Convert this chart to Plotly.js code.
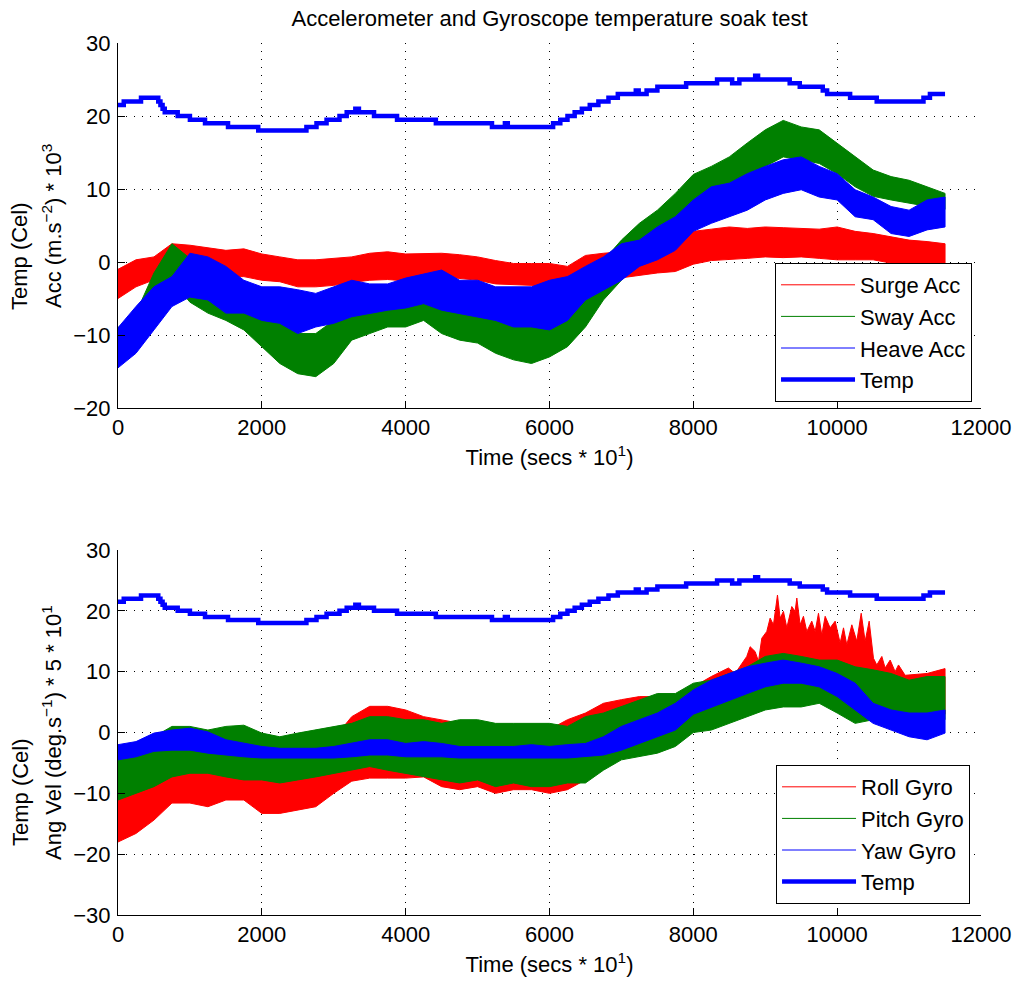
<!DOCTYPE html>
<html>
<head>
<meta charset="utf-8">
<script src="https://cdn.plot.ly/plotly-3.0.1.min.js"></script>
<style>html,body{margin:0;padding:0;background:#fff;}#chart{width:1016px;height:983px;}</style>
</head>
<body>
<div id="chart"></div>
<script>
// Sample times (secs * 10) at which the envelopes of the noisy signals were read
var t = [0,250,500,750,1000,1250,1500,1750,2000,2250,2500,2750,3000,3250,3500,3750,4000,4250,4500,4750,5000,5250,5500,5750,6000,6250,6500,6750,7000,7250,7500,7750,8000,8250,8500,8750,9000,9250,9500,9750,10000,10250,10500,10750,11000,11250,11500];

// Accelerometer (upper / lower envelope of the noisy traces)
var surgeHi = [-1,0.3,0.7,2.5,2.3,2,1.6,1.8,1.1,0.7,0.3,0.3,0.5,0.7,1.2,1.4,1.1,1.2,1.2,1.0,0.7,0.2,-0.2,-0.2,-0.2,-0.6,0.9,1.2,1.4,1.0,0.7,3.5,4.2,4.5,4.8,4.6,4.8,4.7,4.6,4.5,4.8,4.2,3.9,3.4,3.0,2.8,2.5];
var surgeLo = [-5,-3.4,-2.5,-1.5,-2,-1.7,-2,-2,-2.5,-2.7,-3.4,-3.4,-3.2,-2.8,-2.5,-2.4,-2.6,-2.2,-2,-2.3,-2.5,-3,-3.2,-3.2,-3.3,-3.5,-2.5,-2.5,-2.2,-1.8,-1.5,-1.3,-0.3,0.2,0.3,0.5,0.7,0.6,0.7,0.5,0.3,0.3,0.3,-0.2,-0.6,-0.5,-0.2];
var swayHi = [-9,-7,-1.5,2.5,0.5,-2,-3.4,-5.2,-6.6,-8,-9.8,-9.8,-8,-6.1,-4.3,-3.8,-3,-4.3,-5.2,-6.1,-6.1,-7,-7.5,-8,-7.5,-5.7,-3.8,0.2,3,5.3,7.1,9.4,12,13.1,14.4,16.3,18.1,19.4,18.5,18.1,16.3,14.4,12.6,11.7,11.2,10.3,9.4];
var swayLo = [-14.3,-10.7,-5.5,-2.5,-5.5,-7,-8,-9.3,-11.6,-13.9,-15.3,-15.7,-13.9,-10.7,-9.8,-8.9,-8.9,-8,-9.8,-10.7,-11.1,-12.5,-13.4,-13.9,-13,-11.6,-8.9,-5.2,-2.5,0.3,2.1,3.9,8,9.4,10.3,11.7,13.1,14.4,14,13.5,12.1,10.3,9,8.5,8,7.6,7.2];
var heaveHi = [-9,-6.1,-3.4,-2,1.2,0.7,-0.6,-2.5,-3.4,-3.4,-3.8,-4.3,-3.4,-2.5,-3,-3,-2.2,-1.6,-1.1,-2.5,-2.5,-3.4,-3.4,-3.4,-2.5,-2,-0.6,0.7,2.5,3,4.8,6.2,8.5,10.3,10.8,12.1,13.1,14,14.4,13.1,12.1,9.9,8.9,7.6,7.1,8.5,8.9];
var heaveLo = [-14.5,-12.5,-9.3,-6.1,-4.8,-5.2,-7,-7,-8,-8.4,-9.8,-8.9,-8.4,-7.5,-7,-6.6,-6.3,-5.7,-6.6,-7,-7.5,-8,-8.9,-8.9,-9.3,-8,-5.2,-3.8,-2.5,-0.6,0.3,1.6,4.2,5.3,6.2,7.1,8.5,9.4,9.9,8.9,8.5,6.2,5.8,3.9,3.5,4.4,4.8];

// Gyroscope (upper / lower envelope of the noisy traces)
// Roll upper edge is read more finely (spikes between 8500 and 11000)
var rollHiT = [0,250,500,750,1000,1250,1500,1750,2000,2250,2500,2750,3000,3250,3500,3750,4000,4250,4500,4750,5000,5250,5500,5750,6000,6250,6500,6750,7000,7250,7500,7750,8000,8250,8488,8581,8743,8790,8859,8906,8952,9021,9068,9114,9170,9207,9253,9300,9369,9415,9439,9485,9531,9578,9647,9694,9740,9786,9833,9902,9972,10041,10088,10134,10204,10273,10334,10389,10445,10505,10551,10621,10667,10737,10806,10853,10945,11250,11500];
var rollHi = [-11,-9,-7,-5,-4,-4,-4,-4,-4,-4,-4,-3,-1,2.6,4.3,4.3,3.7,2.6,2.1,1.5,1,1,0.5,0,0.5,2.1,3.2,4.8,5.4,5.9,5.9,6.2,7.5,9.2,10.6,9.7,12.5,14.1,13.3,11.7,15.5,16.6,18.8,17.7,22.6,18.8,19.9,17.2,20.7,19.9,22.1,17.7,19.1,16.6,18.3,16.6,19.6,16.0,19.1,17.2,18.3,14.7,17.2,14.4,17.7,15.0,19.6,15.0,18.3,12.2,11.1,12.5,10.6,11.9,10.0,11.1,9.4,9.7,10.5];
var rollLo = [-18,-16.6,-14.4,-11.6,-11.6,-12.2,-11.1,-11.1,-13.3,-13.3,-12.7,-12.2,-10,-8,-7.5,-7.5,-7.5,-7.3,-8.9,-9.4,-8.9,-10,-9.4,-9.4,-10,-9.4,-7.8,-4,-3,-2.5,-2,-1,1,2,3,4,5,6,6,6,5,4,3,3,3,2.5,3];
var pitchHi = [-2.3,-2.3,-0.7,1,1,0.4,1,1.2,-0.1,-0.7,-0.1,0.4,1,1.5,2.6,2.6,2.1,2.1,1.5,2.1,2.1,1.5,1.5,1.5,1.5,1,2.6,3.2,4.3,5.4,6.4,6.4,8.1,8.6,9.7,10.8,12.5,13,12.5,11.9,11.9,10.8,10.3,9.7,8.6,9.2,9.2];
var pitchLo = [-11.1,-10,-8.9,-7.3,-6.7,-6.7,-7.3,-7.8,-7.8,-8.3,-7.8,-7.3,-6.7,-6.2,-5.6,-6.2,-6.7,-7.3,-7.8,-8.3,-7.8,-8.9,-8.3,-8.9,-8.9,-8.3,-8.3,-6.2,-4.5,-4,-3.4,-2.3,0,0.4,1.5,2.6,3.7,4.2,4.2,4.8,3.2,1.5,2.1,2.6,2.1,1.5,2.1];
var yawHi = [-2,-1.5,-0.1,0.4,0.7,0.1,-1.2,-1.8,-2.3,-2.6,-2.6,-2.6,-2.3,-1.8,-1.2,-1.2,-1.8,-1.5,-1.8,-2.3,-2.3,-2.3,-2.3,-2,-2.3,-2,-1.8,-0.7,1,2.1,3.2,4.8,7,8.6,9.7,10.8,11.4,11.9,11.4,10.8,9.7,8.1,4.8,3.7,3.2,3.2,3.7];
var yawLo = [-4.5,-4,-3.1,-2.9,-2.9,-3.4,-3.7,-4,-4.2,-4.2,-4.2,-4.2,-4.2,-4,-3.7,-3.7,-4,-4,-4,-4.2,-4.2,-4.2,-4.2,-4.2,-4.2,-4.2,-4,-3.7,-2.9,-1.8,-0.7,0.4,3,4.2,5.3,6.4,7.5,8.1,8.1,7.5,5.9,3.7,1.5,0.4,-0.7,-1.2,-0.1];

// Temperature (Cel), stepwise: time where each level starts, and level
var tempT = [0,80,320,560,590,620,650,830,1000,1210,1530,1950,2620,2760,2900,3080,3180,3300,3350,3560,3880,4420,5200,5380,5420,6050,6150,6250,6350,6450,6560,6680,6820,6950,7200,7240,7350,7500,7900,8330,8540,8640,8860,8900,9340,9480,9800,9860,10180,10550,11200,11290,11500];
var tempV = [21.5,22,22.5,22,21.5,21,20.5,20,19.5,19,18.5,18,18.5,19,19.5,20,20.5,21,20.5,20,19.5,19,18.5,19,18.5,19,19.5,20,20.5,21,21.5,22,22.5,23,23.5,23,23.5,24,24.5,25,24.5,25,25.5,25,24.5,24,23.5,23,22.5,22,22.5,23,23];

var xTicks = [0,2000,4000,6000,8000,10000,12000];
var xTickText = ['0','2000','4000','6000','8000','10000','12000'];
var accNames = ['Surge Acc','Sway Acc','Heave Acc','Temp'];
var gyroNames = ['Roll Gyro','Pitch Gyro','Yaw Gyro','Temp'];
var colors = ['#ff0000','#008000','#0000ff'];

function band(xHi, hi, xLo, lo, color, xa, ya) {
  return {
    x: xHi.concat(xLo.slice().reverse()),
    y: hi.concat(lo.slice().reverse()),
    xaxis: xa, yaxis: ya, mode: 'lines', fill: 'toself', fillcolor: color,
    line: {color: color, width: 1}, showlegend: false, hoverinfo: 'skip'
  };
}
function legendLine(name, color, lg, grp, rank) {
  return {x: [null], y: [null], mode: 'lines', name: name, legend: lg, legendgroup: grp, legendrank: rank,
          line: {color: color, width: 1}, hoverinfo: 'skip'};
}
function temp(xa, ya, lg, grp) {
  return {x: tempT, y: tempV, xaxis: xa, yaxis: ya, mode: 'lines', name: 'Temp', legendrank: 1004,
          line: {color: '#0000ff', width: 4.5, shape: 'hv'}, legend: lg, legendgroup: grp};
}

var traces = [
  band(t, surgeHi, t, surgeLo, colors[0], 'x', 'y'),
  band(t, swayHi, t, swayLo, colors[1], 'x', 'y'),
  band(t, heaveHi, t, heaveLo, colors[2], 'x', 'y'),
  temp('x', 'y', 'legend', 'a4'),
  legendLine(accNames[0], colors[0], 'legend', 'a1', 1001),
  legendLine(accNames[1], colors[1], 'legend', 'a2', 1002),
  legendLine(accNames[2], colors[2], 'legend', 'a3', 1003),
  band(rollHiT, rollHi, t, rollLo, colors[0], 'x2', 'y2'),
  band(t, pitchHi, t, pitchLo, colors[1], 'x2', 'y2'),
  band(t, yawHi, t, yawLo, colors[2], 'x2', 'y2'),
  temp('x2', 'y2', 'legend2', 'g4'),
  legendLine(gyroNames[0], colors[0], 'legend2', 'g1', 1001),
  legendLine(gyroNames[1], colors[1], 'legend2', 'g2', 1002),
  legendLine(gyroNames[2], colors[2], 'legend2', 'g3', 1003)
];

var FONT = 'Liberation Sans, Arial, Helvetica, sans-serif';
function xax(anchor) {
  return {
    anchor: anchor, range: [0, 12000], tickvals: xTicks, ticktext: xTickText,
    ticks: 'inside', ticklen: 7, tickcolor: '#000', showline: true, linecolor: '#000', linewidth: 1,
    showgrid: true, gridcolor: '#000', gridwidth: 1, griddash: '1px,7px', zeroline: false,
    tickfont: {size: 22, color: '#000'}, ticklabelstandoff: 0,
    title: {text: 'Time (secs * 10<sup>1</sup>)', font: {size: 22, color: '#000'}, standoff: 10}
  };
}
function yax(anchor, dom, rng, vals) {
  return {
    anchor: anchor, domain: dom, range: rng, tickvals: vals,
    ticks: 'inside', ticklen: 7, tickcolor: '#000', showline: true, linecolor: '#000', linewidth: 1,
    showgrid: true, gridcolor: '#000', gridwidth: 1, griddash: '1px,7px', zeroline: false,
    tickfont: {size: 22, color: '#000'}, ticklabelstandoff: 2
  };
}

var legendBase = {
  bgcolor: '#fff', bordercolor: '#000', borderwidth: 1, font: {size: 22, color: '#000'},
  xanchor: 'right', yanchor: 'bottom', traceorder: 'grouped', tracegroupgap: 0, itemwidth: 74
};

function ytitle(text, px, py) {
  return {text: text, textangle: -90, xref: 'paper', yref: 'paper',
          x: (px - 118) / 863, y: (915 - py) / 872, xanchor: 'center', yanchor: 'middle',
          showarrow: false, font: {size: 22, color: '#000'}};
}

var layout = {
  width: 1016, height: 983,
  margin: {l: 118, r: 35, t: 43, b: 68},
  paper_bgcolor: '#fff', plot_bgcolor: '#fff',
  font: {family: FONT, size: 22, color: '#000'},
  title: {text: 'Accelerometer and Gyroscope temperature soak test', font: {size: 22, color: '#000'},
          x: 0.5, xref: 'paper', y: 1 - 18/983, yref: 'container', yanchor: 'middle'},
  xaxis: xax('y'),
  yaxis: yax('x', [0.5814, 1], [-20, 30], [-20,-10,0,10,20,30]),
  xaxis2: xax('y2'),
  yaxis2: yax('x2', [0, 0.4186], [-30, 30], [-30,-20,-10,0,10,20,30]),
  legend: Object.assign({}, legendBase, {x: 0.9896, y: 0.5883}),
  legend2: Object.assign({}, legendBase, {x: 0.9873, y: 0.0126}),
  showlegend: true,
  annotations: [
    ytitle('Temp (Cel)', 20, 256),
    ytitle('Acc (m.s<sup>\u22122</sup>) * 10<sup>3</sup>', 52, 226),
    ytitle('Temp (Cel)', 20, 792),
    ytitle('Ang Vel (deg.s<sup>\u22121</sup>) * 5 * 10<sup>1</sup>', 52, 733)
  ]
};

Plotly.newPlot('chart', traces, layout, {staticPlot: true, displayModeBar: false});
</script>
</body>
</html>
